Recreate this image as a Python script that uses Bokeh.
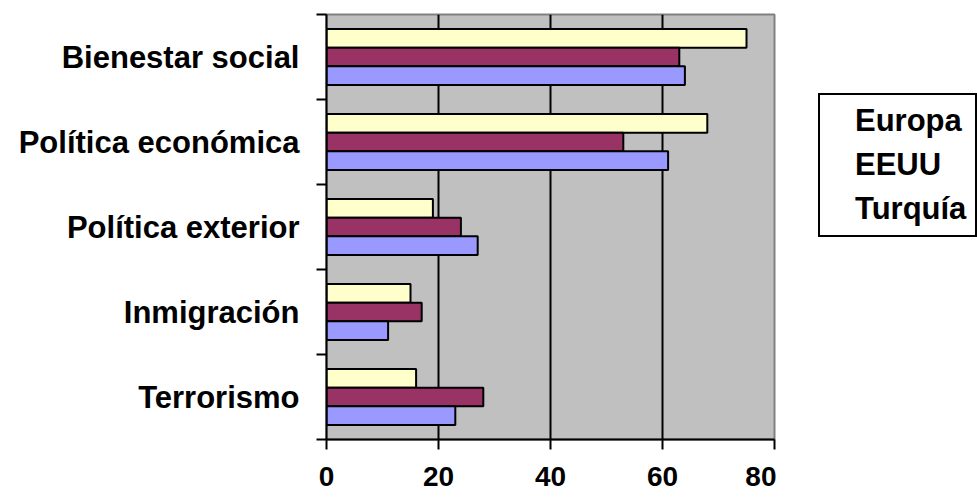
from bokeh.plotting import figure
from bokeh.layouts import row
from bokeh.models import (Range1d, LinearAxis, FixedTicker, ColumnDataSource, Legend, LegendItem)
from bokeh.transform import dodge
from bokeh.embed import file_html
from bokeh.resources import INLINE

categories = ["Bienestar social", "Política económica", "Política exterior", "Inmigración", "Terrorismo"]
europa = [75, 68, 19, 15, 16]
eeuu = [63, 53, 24, 17, 28]
turquia = [64, 61, 27, 11, 23]
series_names = ["Europa", "EEUU", "Turquía"]
x_ticks = [0, 20, 40, 60, 80]

FONT = "Liberation Sans"
FS = "31px"

n = len(categories)
pos = [n - 0.5 - i for i in range(n)]  # category centres, first category at top
bounds = list(range(n + 1))
src = ColumnDataSource(dict(cat=categories, pos=pos, europa=europa, eeuu=eeuu, turquia=turquia))

p = figure(frame_width=448, frame_height=425, output_backend="svg", toolbar_location=None,
           y_range=Range1d(0, n), x_range=Range1d(0, 80), y_axis_location=None, x_axis_location=None,
           min_border_left=326, min_border_right=2, min_border_top=14, min_border_bottom=60)
p.background_fill_color = "#C0C0C0"
p.border_fill_color = "white"
p.outline_line_color = "#808080"
p.outline_line_width = 2

# x axis
xa = LinearAxis(ticker=FixedTicker(ticks=x_ticks))
xa.axis_line_color = "black"
xa.axis_line_width = 2
xa.major_tick_line_color = "black"
xa.major_tick_line_width = 2
xa.major_tick_in = 0
xa.major_tick_out = 10
xa.minor_tick_line_color = None
xa.major_label_text_font = FONT
xa.major_label_text_font_size = "28px"
xa.major_label_text_font_style = "bold"
xa.major_label_text_color = "black"
xa.major_label_standoff = 17
p.add_layout(xa, "below")

# y tick axis (ticks at category boundaries, no labels)
ya_ticks = LinearAxis(ticker=FixedTicker(ticks=bounds),
                      major_label_overrides={float(b): "" for b in bounds})
ya_ticks.axis_line_color = "black"
ya_ticks.axis_line_width = 2
ya_ticks.major_tick_line_color = "black"
ya_ticks.major_tick_line_width = 2
ya_ticks.major_tick_in = 0
ya_ticks.major_tick_out = 10
ya_ticks.minor_tick_line_color = None
ya_ticks.major_label_standoff = 0
p.add_layout(ya_ticks, "left")

# category label axis (labels at category centres)
ya = LinearAxis(ticker=FixedTicker(ticks=pos),
                major_label_overrides={float(v): c for v, c in zip(pos, categories)})
ya.axis_line_color = None
ya.major_tick_line_color = None
ya.major_tick_in = 0
ya.major_tick_out = 0
ya.minor_tick_line_color = None
ya.major_label_text_font = FONT
ya.major_label_text_font_size = FS
ya.major_label_text_font_style = "bold"
ya.major_label_text_color = "black"
ya.major_label_standoff = 17
p.add_layout(ya, "left")

# grid
p.xgrid.ticker = FixedTicker(ticks=x_ticks[1:-1])
p.xgrid.grid_line_color = "black"
p.xgrid.grid_line_width = 2
p.ygrid.grid_line_color = None

H = 0.22
colors = ["#FFFFCC", "#993366", "#9999FF"]
fields = ["europa", "eeuu", "turquia"]
offsets = [H, 0, -H]
for f, c, o in zip(fields, colors, offsets):
    p.hbar(y=dodge("pos", o), left=0, right=f, height=H, source=src,
           fill_color=c, line_color="black", line_width=2)

# legend panel as a separate small figure to the right
lf = figure(width=201, height=499, output_backend="svg", toolbar_location=None,
            x_range=Range1d(0, 1), y_range=Range1d(0, 1),
            x_axis_location=None, y_axis_location=None, min_border=0)
lf.outline_line_color = None
lf.background_fill_color = "white"
lf.border_fill_color = "white"
lf.xgrid.grid_line_color = None
lf.ygrid.grid_line_color = None
leg_renderers = []
for c in colors:
    r = lf.hbar(y=[], right=[], height=0.1, fill_color=c, line_color="black", line_width=2)
    leg_renderers.append(r)

legend = Legend(items=[LegendItem(label=s, renderers=[r]) for s, r in zip(series_names, leg_renderers)],
                location=(42, 202))
legend.margin = 0
legend.padding = 8
legend.spacing = 8
legend.glyph_width = 21
legend.glyph_height = 21
legend.label_standoff = 6
legend.label_width = 112
legend.label_text_font = FONT
legend.label_text_font_size = FS
legend.label_text_font_style = "bold"
legend.label_text_color = "black"
legend.border_line_color = "black"
legend.border_line_width = 2
legend.border_line_alpha = 1
legend.background_fill_color = "white"
legend.background_fill_alpha = 1
lf.add_layout(legend)

layout = row(p, lf, spacing=0)
open("out.html", "w").write(file_html(layout, INLINE))
